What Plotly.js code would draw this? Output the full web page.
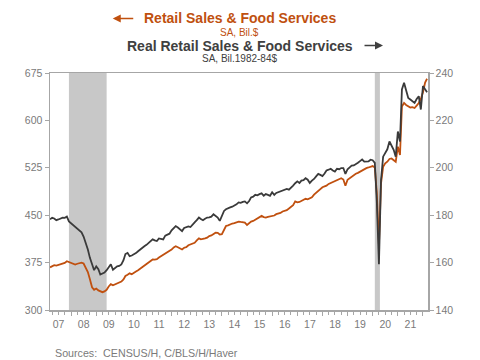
<!DOCTYPE html>
<html>
<head>
<meta charset="utf-8">
<script src="https://cdn.plot.ly/plotly-3.0.1.min.js"></script>
<style>
  html, body { margin: 0; padding: 0; background: #fff; }
  #chart { width: 480px; height: 360px; }
</style>
</head>
<body>
<div id="chart"></div>
<script>
// Monthly data, Mar 2007 .. Mar 2022
const startYear = 2007;
const startMonth = 3;

// Retail Sales & Food Services, SA, Bil.$ (left axis)
const nominalSales = [
  367.5, 369.0, 371.0, 370.2, 371.0, 372.2, 373.5, 374.5, 377.1, 375.5, 374.5, 373.0,
  371.8, 373.2, 374.5, 375.0, 373.5, 367.0, 360.0, 348.5, 336.0, 332.0, 334.0, 331.0,
  329.0, 328.2, 329.5, 332.0, 337.2, 341.0, 339.2, 340.5, 342.0, 343.0, 345.0, 348.5,
  353.8, 355.8, 358.0, 356.5, 359.5, 361.0, 363.0, 365.4, 368.0, 371.0, 373.0, 375.5,
  377.1, 380.0, 379.8, 380.5, 383.0, 385.1, 386.5, 388.9, 391.0, 393.5, 395.7, 399.0,
  401.0, 399.4, 397.0, 395.7, 398.5, 399.4, 402.5, 403.7, 405.0, 406.4, 410.0, 413.3,
  411.7, 412.0, 413.3, 414.5, 417.0, 418.0, 419.7, 422.4, 422.0, 419.5, 420.0, 428.0,
  432.9, 434.0, 436.0, 436.8, 437.5, 439.0, 439.9, 439.3, 438.8, 438.3, 434.5, 437.5,
  440.0, 440.9, 443.0, 445.2, 446.5, 448.9, 447.0, 446.3, 447.5, 448.0, 448.9, 449.5,
  451.6, 452.5, 453.5, 455.9, 456.5, 458.0, 460.5, 463.2, 466.0, 471.9, 470.3, 471.0,
  472.5, 473.9, 476.0, 475.0, 476.5, 478.2, 482.5, 485.5, 488.8, 491.5, 494.2, 495.5,
  496.7, 499.5, 501.0, 502.2, 504.0, 506.3, 507.5, 508.6, 506.5, 496.7, 506.0, 508.5,
  511.0, 513.8, 515.5, 517.0, 519.1, 521.0, 523.0, 524.5, 525.5, 526.5, 527.7, 525.5,
  485.0, 402.0, 499.9, 526.6, 532.0, 534.6, 539.0, 539.8, 537.5, 534.6, 558.5, 545.3,
  622.0, 627.6, 624.5, 622.3, 620.5, 621.0, 619.6, 623.5, 627.6, 634.0, 644.7, 660.0,
  665.9
];

// Real Retail Sales & Food Services, SA, Bil.1982-84$ (right axis)
const realSales = [
  178.3, 178.9, 178.6, 177.9, 178.2, 178.6, 179.0, 178.9, 179.4, 177.4, 176.6, 175.8,
  175.0, 174.5, 173.8, 172.8, 171.0, 168.6, 165.5, 162.0, 158.8, 156.8, 158.4, 157.2,
  155.0, 155.4, 155.8, 156.8, 158.0, 159.3, 157.0, 157.8, 158.4, 158.6, 159.2, 161.0,
  163.6, 164.1, 162.7, 163.0, 163.4, 164.0, 164.8, 165.6, 166.2, 166.9, 167.5, 168.3,
  169.0, 169.8, 169.4, 169.1, 170.2, 170.0, 169.8, 171.4, 171.8, 172.2, 173.6, 174.6,
  175.4, 174.8, 174.2, 173.3, 174.6, 174.8, 175.3, 175.0, 176.2, 177.0, 177.9, 179.0,
  178.4, 177.9, 178.5, 179.0, 179.1, 179.4, 180.4, 179.8, 179.0, 177.6, 179.5, 181.8,
  182.5, 183.0, 183.3, 183.6, 184.0, 184.6, 185.4, 185.2, 185.6, 185.8, 185.0, 186.0,
  187.5, 187.8, 188.6, 188.4, 188.9, 189.2, 188.2, 188.9, 188.6, 188.2, 189.7, 188.6,
  189.4, 189.7, 190.0, 190.3, 190.6, 191.1, 190.8, 191.5, 192.5, 193.5, 194.3, 193.6,
  194.6, 194.8, 195.6, 195.0, 193.6, 194.6, 195.3, 196.4, 197.4, 197.0, 196.5, 197.6,
  198.9, 199.2, 199.6, 198.9, 198.4, 199.6, 199.4, 199.9, 199.9, 197.4, 199.4, 200.2,
  200.9, 201.0, 201.4, 202.1, 202.8, 203.5, 202.6, 202.8, 202.7, 203.4, 203.2, 202.1,
  186.0, 159.3, 194.8, 204.7, 206.0, 207.8, 211.1, 209.5, 207.6, 204.7, 215.3, 211.1,
  233.1, 235.9, 232.3, 229.5, 228.8, 228.2, 227.4, 229.0, 230.2, 224.6, 234.5, 233.1,
  231.9
];

// Recession periods
const recessionStart = ['2007-12-01', '2020-02-01'];
const recessionEnd   = ['2009-06-01', '2020-04-15'];

// Text
const title1 = 'Retail Sales & Food Services';
const subtitle1 = 'SA, Bil.$';
const title2 = 'Real Retail Sales & Food Services';
const subtitle2 = 'SA, Bil.1982-84$';
const sourceText = 'Sources:\u00a0 CENSUS/H, C/BLS/H/Haver';

const dates = nominalSales.map((_, i) => {
  const t = (startMonth - 1) + i;
  const y = startYear + Math.floor(t / 12);
  const m = (t % 12) + 1;
  return y + '-' + String(m).padStart(2, '0') + '-01';
});

const ORANGE = '#C0500F';
const DARK = '#3a3a3a';
const AXIS = '#a6a6a6';
const TICKTXT = '#7a7a7a';
const FONT = 'Liberation Sans, Arial, sans-serif';

const traces = [
  { x: dates, y: nominalSales, type: 'scatter', mode: 'lines', yaxis: 'y',
    line: { color: ORANGE, width: 1.8 }, hoverinfo: 'skip' },
  { x: dates, y: realSales, type: 'scatter', mode: 'lines', yaxis: 'y2',
    line: { color: DARK, width: 1.8 }, hoverinfo: 'skip' }
];

const shapes = recessionStart.map((s, i) => ({
  type: 'rect', xref: 'x', yref: 'paper', x0: s, x1: recessionEnd[i], y0: 0, y1: 1,
  fillcolor: '#c8c8c8', line: { width: 0 }, layer: 'below'
}));

const annotations = [
  { text: '', xref: 'paper', yref: 'paper', x: 0.166, y: 1.2300, ax: 22, ay: 0,
    showarrow: true, arrowhead: 2, arrowsize: 1, arrowwidth: 1.6, arrowcolor: ORANGE },
  { text: '<b>' + title1 + '</b>', xref: 'paper', yref: 'paper', x: 0.2426, y: 1.2300,
    xanchor: 'left', yanchor: 'middle', showarrow: false,
    font: { family: FONT, size: 14, color: ORANGE } },
  { text: subtitle1, xref: 'paper', yref: 'paper', x: 0.5026, y: 1.1690,
    xanchor: 'center', yanchor: 'middle', showarrow: false,
    font: { family: FONT, size: 10, color: ORANGE } },
  { text: '<b>' + title2 + '</b>', xref: 'paper', yref: 'paper', x: 0.1984, y: 1.1160,
    xanchor: 'left', yanchor: 'middle', showarrow: false,
    font: { family: FONT, size: 14, color: '#404040' } },
  { text: '', xref: 'paper', yref: 'paper', x: 0.881, y: 1.1160, ax: -20, ay: 0,
    showarrow: true, arrowhead: 2, arrowsize: 1, arrowwidth: 1.6, arrowcolor: '#404040' },
  { text: subtitle2, xref: 'paper', yref: 'paper', x: 0.502, y: 1.0600,
    xanchor: 'center', yanchor: 'middle', showarrow: false,
    font: { family: FONT, size: 10, color: '#404040' } },
  { text: sourceText, xref: 'paper', yref: 'paper', x: 0.008, y: -0.18,
    xanchor: 'left', yanchor: 'middle', showarrow: false,
    font: { family: FONT, size: 10.7, color: TICKTXT } }
];

const layout = {
  width: 480, height: 360,
  margin: { l: 50, r: 52, t: 73, b: 50, pad: 0 },
  paper_bgcolor: '#ffffff', plot_bgcolor: '#ffffff',
  showlegend: false,
  font: { family: FONT, color: TICKTXT, size: 10.5 },
  xaxis: {
    type: 'date', range: ['2007-03-01', '2022-03-15'],
    showline: true, linecolor: AXIS, linewidth: 1.5, mirror: true,
    ticks: 'outside', ticklen: 4, tickcolor: AXIS, tickwidth: 1,
    dtick: 'M12', tick0: '2007-01-01', tickformat: '%y', ticklabelmode: 'period',
    tickfont: { family: FONT, size: 10.5, color: TICKTXT },
    showgrid: false, zeroline: false,
    minor: { dtick: 'M3', tick0: '2007-01-01', ticks: 'outside', ticklen: 3,
             tickcolor: AXIS, tickwidth: 1, showgrid: false }
  },
  yaxis: {
    range: [300, 675], tick0: 300, dtick: 75,
    showline: true, linecolor: AXIS, linewidth: 1.5,
    ticks: 'outside', ticklen: 4, tickcolor: AXIS,
    tickfont: { family: FONT, size: 10.5, color: TICKTXT },
    showgrid: false, zeroline: false
  },
  yaxis2: {
    overlaying: 'y', side: 'right',
    range: [140, 240], tick0: 140, dtick: 20,
    showline: true, linecolor: AXIS, linewidth: 1.5,
    ticks: 'outside', ticklen: 4, tickcolor: AXIS,
    tickfont: { family: FONT, size: 10.5, color: TICKTXT },
    showgrid: false, zeroline: false
  },
  shapes: shapes,
  annotations: annotations
};

Plotly.newPlot('chart', traces, layout, { staticPlot: true, displayModeBar: false });
</script>
</body>
</html>
